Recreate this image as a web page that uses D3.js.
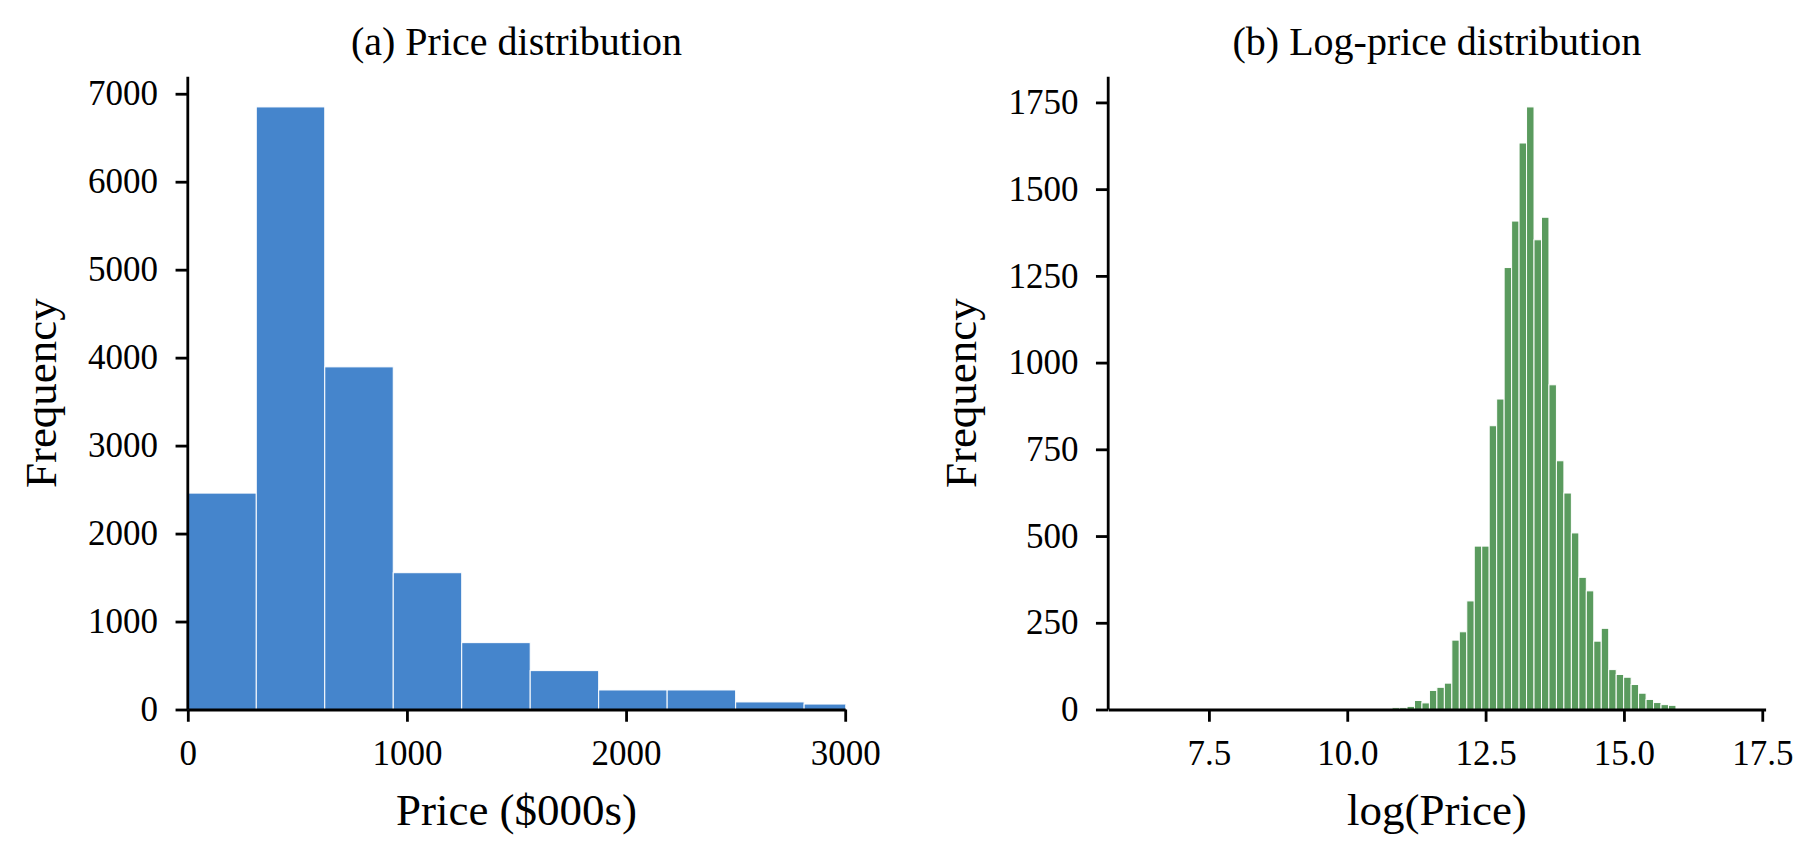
<!DOCTYPE html>
<html>
<head>
<meta charset="utf-8">
<script src="https://cdn.jsdelivr.net/npm/d3@7"></script>
<style>
	body { margin: 0; background: #ffffff; }
	text { font-family: "Liberation Serif", "Times New Roman", serif; fill: #000000; }
</style>
</head>
<body>
<div id="chart"></div>
<script>

// (a) price histogram, bins of 312.5 (thousands of dollars)
var priceEdges = [0, 312.5, 625, 937.5, 1250, 1562.5, 1875, 2187.5, 2500, 2812.5, 3125];
var priceCounts = [2460, 6850, 3895, 1555, 760, 442, 222, 222, 86, 62];
var priceTicks = [0, 1000, 2000, 3000];
var freqTicksA = [0, 1000, 2000, 3000, 4000, 5000, 6000, 7000];

// (b) log-price histogram, 80 bins starting at logLo
var logLo = 6.22;
var logBinWidth = 0.135;
var logCounts = [
	1, 0, 0, 0, 0, 0, 0, 0, 0, 0,
	0, 0, 0, 0, 0, 0, 0, 0, 0, 0,
	0, 0, 0, 0, 0, 0, 0, 0, 0, 0,
	0, 0, 0, 0, 5, 5, 9, 26, 19, 55,
	64, 76, 200, 224, 313, 471, 471, 818, 895, 1274,
	1408, 1633, 1737, 1354, 1419, 936, 717, 624, 509, 381,
	342, 197, 234, 115, 101, 93, 72, 47, 29, 20,
	14, 12, 0, 0, 0, 0, 0, 0, 0, 1
];
var logTicks = [7.5, 10.0, 12.5, 15.0, 17.5];
var freqTicksB = [0, 250, 500, 750, 1000, 1250, 1500, 1750];

var width = 1817;
var height = 858;
var plotTop = 76.8;
var plotBottom = 709.5;
var tickFont = 35;
var labelFont = 45;
var titleFont = 40;

var svg = d3.select("#chart").append("svg")
	.attr("width", width)
	.attr("height", height)
	.attr("viewBox", "0 0 " + width + " " + height);

function drawPanel(opts)
{
	var g = svg.append("g");

	var x = d3.scaleLinear().domain(opts.xDomain).range([opts.left, opts.right]);
	var y = d3.scaleLinear().domain([0, d3.max(opts.counts) * 1.05]).range([plotBottom, plotTop]);

	var clipId = "clip-" + opts.id;
	svg.append("clipPath").attr("id", clipId)
		.append("rect")
		.attr("x", opts.left)
		.attr("y", plotTop)
		.attr("width", opts.right - opts.left)
		.attr("height", plotBottom - plotTop);

	var bins = opts.counts.map(function(c, i)
	{
		return {"x0": opts.edges[i], "x1": opts.edges[i + 1], "count": c};
	});

	g.append("g")
		.attr("clip-path", "url(#" + clipId + ")")
		.selectAll("rect")
		.data(bins.filter(function(d) { return d.count > 0; }))
		.join("rect")
		.attr("x", function(d) { return x(d.x0); })
		.attr("y", function(d) { return y(d.count); })
		.attr("width", function(d) { return x(d.x1) - x(d.x0); })
		.attr("height", function(d) { return y(0) - y(d.count); })
		.attr("fill", opts.color)
		.attr("stroke", "#ffffff")
		.attr("stroke-width", 1);

	var xAxis = d3.axisBottom(x)
		.tickValues(opts.xTicks)
		.tickFormat(opts.xFormat)
		.tickSize(12.25)
		.tickSizeOuter(0)
		.tickPadding(18);

	var yAxis = d3.axisLeft(y)
		.tickValues(opts.yTicks)
		.tickFormat(d3.format("d"))
		.tickSize(12.25)
		.tickSizeOuter(0)
		.tickPadding(17.5);

	var gx = g.append("g")
		.attr("transform", "translate(0," + plotBottom + ")")
		.call(xAxis);

	var gy = g.append("g")
		.attr("transform", "translate(" + opts.left + ",0)")
		.call(yAxis);

	// y spine spans the whole axes height
	gy.select(".domain").attr("d", "M0," + plotTop + "V" + plotBottom);

	[gx, gy].forEach(function(a)
	{
		a.select(".domain").attr("stroke", "#000").attr("stroke-width", 2.8);
		a.selectAll(".tick line").attr("stroke", "#000").attr("stroke-width", 2.8);
		a.selectAll(".tick text")
			.style("font-family", "'Liberation Serif', 'Times New Roman', serif")
			.attr("font-size", tickFont)
			.attr("fill", "#000");
	});

	var midX = (opts.left + opts.right) / 2;
	var midY = (plotTop + plotBottom) / 2;

	g.append("text")
		.attr("x", midX)
		.attr("y", 55)
		.attr("text-anchor", "middle")
		.attr("font-size", titleFont)
		.text(opts.title);

	g.append("text")
		.attr("x", midX)
		.attr("y", 825)
		.attr("text-anchor", "middle")
		.attr("font-size", labelFont)
		.text(opts.xLabel);

	g.append("text")
		.attr("transform", "translate(" + (opts.left - 132) + "," + midY + ") rotate(-90)")
		.attr("text-anchor", "middle")
		.attr("font-size", labelFont)
		.text("Frequency");
}

drawPanel({
	id: "a",
	left: 187.8,
	right: 845.2,
	xDomain: [0, 3000],
	edges: priceEdges,
	counts: priceCounts,
	color: "#4585cc",
	xTicks: priceTicks,
	xFormat: d3.format("d"),
	yTicks: freqTicksA,
	title: "(a) Price distribution",
	xLabel: "Price ($000s)"
});

var logEdges = d3.range(logCounts.length + 1).map(function(i) { return logLo + i * logBinWidth; });
var logHi = logEdges[logEdges.length - 1];
var logPad = (logHi - logLo) * 0.05;

drawPanel({
	id: "b",
	left: 1108.2,
	right: 1765.6,
	xDomain: [logLo - logPad, logHi + logPad],
	edges: logEdges,
	counts: logCounts,
	color: "#5a9b5e",
	xTicks: logTicks,
	xFormat: d3.format(".1f"),
	yTicks: freqTicksB,
	title: "(b) Log-price distribution",
	xLabel: "log(Price)"
});

</script>
</body>
</html>
